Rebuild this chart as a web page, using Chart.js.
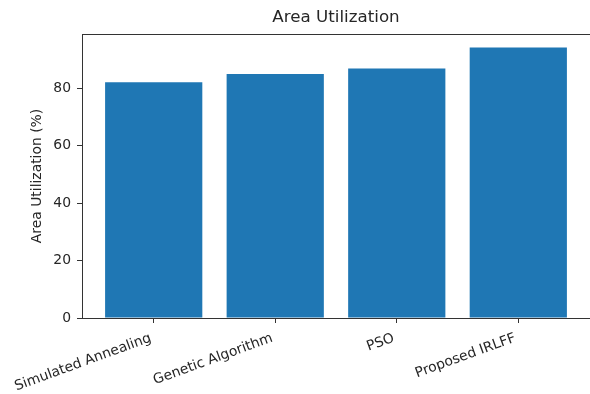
<!DOCTYPE html>
<html>
<head>
<meta charset="utf-8">
<script src="https://cdn.jsdelivr.net/npm/chart.js@4"></script>
<style>
  html, body { margin: 0; padding: 0; background: #fff; overflow: hidden; }
  #wrap { width: 590px; height: 394px; }
</style>
</head>
<body>
<div id="wrap"><canvas id="myChart" width="590" height="394"></canvas></div>
<script>
// data
const methods = ["Simulated Annealing", "Genetic Algorithm", "PSO", "Proposed IRLFF"];
const utilization = [82.1, 85.0, 86.9, 94.2];
const yTicks = [0, 20, 40, 60, 80];

const FONT = "'DejaVu Sans', sans-serif";
const INK = "#262626";

// title centred over the plot area, plus the top spine
const framePlugin = {
  id: "frame",
  afterDraw(chart) {
    const { ctx, chartArea: a } = chart;
    ctx.save();
    ctx.strokeStyle = "#333";
    ctx.lineWidth = 1;
    ctx.beginPath();
    ctx.moveTo(a.left, a.top + 0.5);
    ctx.lineTo(a.right + 2, a.top + 0.5);
    ctx.stroke();
    ctx.fillStyle = INK;
    ctx.font = "16.7px " + FONT;
    ctx.textAlign = "center";
    ctx.textBaseline = "middle";
    ctx.fillText("Area Utilization", (a.left + a.right) / 2, 18);
    ctx.restore();
  },
};

const data = {
  datasets: [
    {
      label: "Area Utilization",
      data: utilization.map((v, i) => ({ x: i, y: v })),
      backgroundColor: "#1f77b4",
      borderWidth: 0,
      barPercentage: 0.8,
      categoryPercentage: 1.0,
    },
  ],
};

const config = {
  type: "bar",
  data,
  options: {
    responsive: false,
    animation: false,
    layout: { padding: { top: 34, right: -1, left: 0, bottom: 0 } },
    plugins: {
      legend: { display: false },
      tooltip: { enabled: false },
      title: { display: false },
    },
    scales: {
      x: {
        type: "linear",
        min: -0.59,
        max: 3.59,
        offset: false,
        border: { display: true, color: "#333", width: 1 },
        grid: { offset: false, drawOnChartArea: false, drawTicks: true, tickLength: 5, color: "#333" },
        ticks: {
          stepSize: 1,
          includeBounds: false,
          autoSkip: false,
          minRotation: 20,
          maxRotation: 20,
          color: INK,
          font: { family: FONT, size: 13.9 },
          padding: 7,
          labelOffset: -3,
          callback: (v) => methods[v],
        },
        afterFit: (scale) => {
          scale.height = 76;
          // long rotated labels must not push the plot area inwards
          scale.paddingLeft = 0;
          scale.paddingRight = 0;
        },
      },
      y: {
        min: 0,
        max: 98.9,
        border: { display: true, color: "#333", width: 1 },
        grid: { drawOnChartArea: false, drawTicks: true, tickLength: 5, color: "#333" },
        afterBuildTicks: (scale) => {
          scale.ticks = yTicks.map((v) => ({ value: v }));
        },
        ticks: {
          color: INK,
          font: { family: FONT, size: 13.9 },
          padding: 6,
        },
        title: {
          display: true,
          text: "Area Utilization (%)",
          color: INK,
          font: { family: FONT, size: 13.9 },
          padding: { top: 29, bottom: 0 },
        },
        afterFit: (scale) => { scale.width = 82; },
      },
    },
  },
  plugins: [framePlugin],
};

const myChart = new Chart(document.getElementById("myChart"), config);
</script>
</body>
</html>
